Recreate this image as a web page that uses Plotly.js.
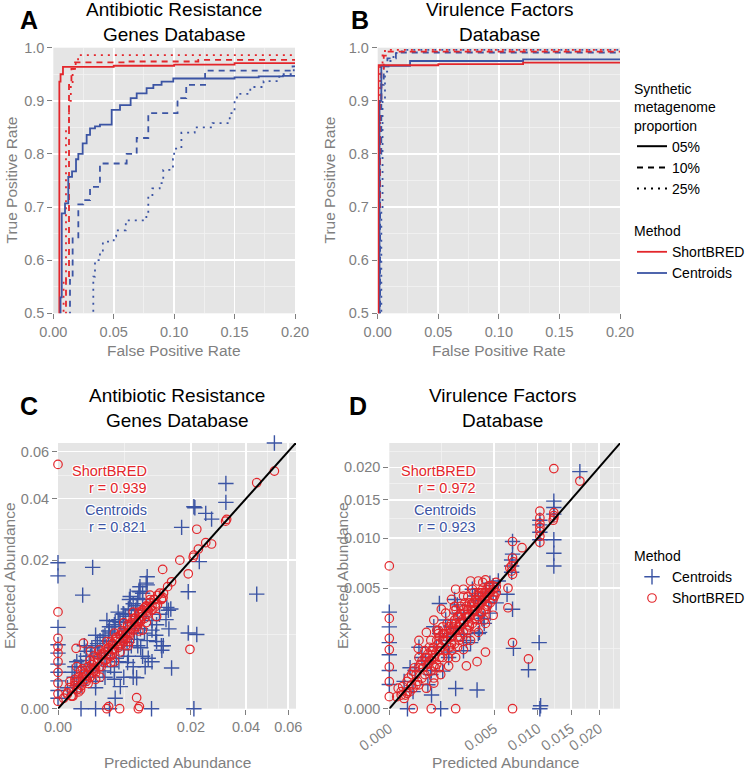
<!DOCTYPE html>
<html><head><meta charset="utf-8">
<script src="https://cdn.plot.ly/plotly-3.0.1.min.js"></script>
<style>html,body{margin:0;padding:0;background:#fff}#chart{width:750px;height:770px}</style>
</head><body><div id="chart"></div>
<script>
// ---------- ROC data (panel A: Antibiotic Resistance Genes) ----------
const fprA_SB05 = [0.005, 0.006, 0.008, 0.05, 0.10, 0.15, 0.21];
const tprA_SB05 = [0.45, 0.936, 0.95, 0.964, 0.966, 0.968, 0.971];
const fprA_SB10 = [0.0105, 0.013, 0.015, 0.018, 0.06, 0.12, 0.21];
const tprA_SB10 = [0.45, 0.563, 0.93, 0.96, 0.9725, 0.974, 0.977];
const fprA_SB25 = [0.0085, 0.0105, 0.013, 0.0145, 0.016, 0.0185, 0.0205, 0.21];
const tprA_SB25 = [0.45, 0.56, 0.85, 0.9, 0.93, 0.96, 0.975, 0.986];
const fprA_C05 = [0.006, 0.007, 0.0097, 0.0124, 0.0155, 0.0188, 0.0207, 0.0243, 0.0276, 0.0304, 0.0345, 0.0386, 0.0483, 0.0552, 0.064, 0.069, 0.0772, 0.0828, 0.0896, 0.0993, 0.15, 0.17, 0.19, 0.21];
const tprA_C05 = [0.45, 0.53, 0.688, 0.707, 0.757, 0.767, 0.79, 0.80, 0.82, 0.836, 0.848, 0.852, 0.855, 0.883, 0.892, 0.905, 0.914, 0.924, 0.93, 0.936, 0.942, 0.944, 0.946, 0.947];
const fprA_C10 = [0.0138, 0.016, 0.0207, 0.0248, 0.0304, 0.0386, 0.0607, 0.069, 0.0786, 0.1028, 0.110, 0.1256, 0.198, 0.21];
const tprA_C10 = [0.45, 0.563, 0.641, 0.705, 0.713, 0.738, 0.782, 0.80, 0.83, 0.877, 0.905, 0.93, 0.957, 0.965];
const fprA_C25 = [0.0331, 0.0345, 0.0386, 0.041, 0.050, 0.052, 0.06, 0.077, 0.0786, 0.082, 0.088, 0.091, 0.099, 0.100, 0.106, 0.117, 0.1318, 0.146, 0.150, 0.152, 0.163, 0.174, 0.187, 0.199, 0.21];
const tprA_C25 = [0.45, 0.569, 0.60, 0.615, 0.635, 0.645, 0.656, 0.675, 0.688, 0.72, 0.735, 0.745, 0.77, 0.79, 0.81, 0.84, 0.85, 0.858, 0.877, 0.90, 0.913, 0.926, 0.937, 0.95, 0.965];

// ---------- ROC data (panel B: Virulence Factors) ----------
const fprB_SB05 = [0.0005, 0.05, 0.12, 0.21];
const tprB_SB05 = [0.45, 0.967, 0.969, 0.972];
const fprB_SB10 = [0.001, 0.002, 0.003, 0.005, 0.008, 0.21];
const tprB_SB10 = [0.45, 0.7, 0.9, 0.96, 0.985, 0.9925];
const fprB_SB25 = [0.001, 0.002, 0.004, 0.006, 0.21];
const tprB_SB25 = [0.45, 0.8, 0.97, 0.99, 0.996];
const fprB_C05 = [0.0015, 0.003, 0.0267, 0.12, 0.21];
const tprB_C05 = [0.45, 0.9, 0.966, 0.975, 0.978];
const fprB_C10 = [0.002, 0.003, 0.005, 0.008, 0.015, 0.21];
const tprB_C10 = [0.45, 0.8, 0.93, 0.965, 0.98, 0.991];
const fprB_C25 = [0.003, 0.004, 0.006, 0.009, 0.013, 0.02, 0.21];
const tprB_C25 = [0.45, 0.7, 0.9, 0.955, 0.975, 0.99, 0.996];

// ---------- Abundance scatter (panel C: ARG database) ----------
const cCenPred = [0.053,0.0319,0.0319,0.0209,0.0212,0.0247,0.0267,0.0173,0.0226,0.00136,
0,0,0.00069,0.009,0.0088,0.0076,0.0192,0.0447,0.0138,0.0134,
0.0192,0.0218,0.011,0.0122,0.0146,0.0086,0.007,0.0044,0.0037,0.0209,
0.0099,0.0059,0.0048,0.0037,0.0076,0.000225,0.0004,0.000625,0.0009,0.0012,
0.0016,0.002,0.0025,0.003,0.0036,0.0042,0.0049,0.0056,0.0064,0.0072,
0.0081,0.009,0.0009,0.0025,0.0049,0.0081,0.0016,0.0025,0.0036,0.0042,
0.0049,0.0056,0.0064,0.0072,0.0081,0.009,0.01,0.011,0.0121,0.0132,
0.01,0.0144,0,0,0,0,0,0,0,0,
0.0016,0.003,0.0006,0.0001,0.0003,0.0006,0.0011,0.0019,0.0029,0.0033,
0.0052,0.0061,0.0068,0.0031,0.0054,0.0066,0.0077];
const cCenExp = [0.064,0.046,0.0386,0.037,0.0366,0.0346,0.0326,0.0298,0.0196,0.0181,
0.0193,0.016,0.0117,0.0158,0.0143,0.0124,0.0124,0.0119,0.0088,0.0093,
0.0052,0.005,0.0041,0.0031,0.0015,0.0016,0.00087,0.00044,0.0001,0,
0,0.0114,0.0082,0.0069,0.0135,0.0012,0.002,0.0016,0.003,0.0025,
0.0036,0.0042,0.0049,0.0061,0.0064,0.0072,0.0081,0.009,0.01,0.011,
0.0121,0.0139,0.0009,0.0023,0.0046,0.0077,0.0004,0.0009,0.0012,0.002,
0.0009,0.0025,0.0016,0.0036,0.0025,0.0042,0.0056,0.0064,0.0036,0.0072,
0.002,0.009,0.006,0.0037,0.0028,0.0018,0.0012,0.0007,0.0003,0.0001,
0,0,0,0.0004,0.0009,0.0005,0.0018,0.0028,0.0041,0.0052,
0.0058,0.0068,0.0088,0.0023,0.004,0.0052,0.0058];
const cCenPredBand = [0.000324,0.000576,0.0009,0.001296,0.001764,0.002304,0.002916,0.0036,0.004356,0.005184,
0.006084,0.007056,0.0081,0.000784,0.0016,0.002704,0.004096,0.005776,0.007396,
0.0016,0.002304,0.003136,0.003844,0.0049,0.006084,0.007056,0.008464,0.01,0.011664,
0.0036,0.005476,0.007744,0.010816,0.012544,0.013924,0.0064,0.009216,
0.0004,0.001156,0.002116,0.003364,0.004624,0.006724];
const cCenExpBand = [0.0016,0.002116,0.0025,0.003364,0.003844,0.004624,0.005476,0.006084,0.006724,0.007744,
0.008836,0.009604,0.010816,0.0036,0.0049,0.007056,0.008464,0.010816,0.012544,
0.000676,0.001296,0.0016,0.002304,0.003136,0.0036,0.004356,0.005184,0.007056,0.0081,
0.000784,0.001936,0.003364,0.0049,0.0036,0.005776,0.0009,0.002304,
0.000484,0.001296,0.002304,0.003364,0.0049,0.006724];
const cSbPred = [0,0.053,0.0447,0.0322,0.0318,0.0218,0.0267,0.0247,0.0223,0.0209,
0.0207,0.0168,0.0192,0.0124,0.0146,0.0136,0.0126,0.0122,0.0096,0.0107,
0.011,0.0197,0.00037,0.00073,0,0,0,0,0,0,
0,0,0,0.007,0.0027,0.0029,0.0043,0.0073,0.0075,0.00016,
0.0001,0.000225,0.000324,0.0004,0.000484,0.000625,0.000729,0.0009,0.001024,0.001156,
0.0013,0.00144,0.0016,0.00176,0.00194,0.0021,0.0023,0.0025,0.0027,0.0029,
0.0031,0.0034,0.0036,0.0038,0.0041,0.0044,0.0046,0.0049,0.0052,0.0055,
0.0058,0.0061,0.0064,0.0067,0.0071,0.0074,0.0077,0.0081,0.0085,0.0088,
0.0092,0.0096,0.01,0.0106,0.0112,0.0117,0.0125,0.002,0.0036,0.0012,
0.0056,0.0081,0.0004,0.0015,0.0033,0.0052,0.007,0.009,0.0008];
const cSbExp = [0.0541,0.0512,0.0463,0.0325,0.0319,0.0292,0.0246,0.025,0.0231,0.0214,
0.0208,0.02,0.0165,0.0176,0.0146,0.0135,0.0121,0.011,0.0117,0.0094,
0.0077,0.0032,0.0033,0.0039,0.0085,0.0045,0.0035,0.0028,0.002,0.0012,
0.0006,0.0002,0.00005,0.00011,0,0.000004,0,0,0.000004,0.00066,
0.000225,0.000144,0.000625,0.000324,0.0009,0.000484,0.001089,0.000676,0.0016,0.0009,
0.00137,0.002,0.00116,0.0023,0.0016,0.0027,0.00194,0.0031,0.0022,0.0034,
0.0025,0.0038,0.0029,0.0044,0.0034,0.0049,0.0038,0.0053,0.0044,0.0061,
0.0049,0.0067,0.0056,0.0074,0.0061,0.0081,0.0069,0.0088,0.0074,0.0094,
0.0081,0.0102,0.0088,0.0108,0.0098,0.0121,0.0112,0.0009,0.002,0.003,
0.0036,0.0056,0.0016,0.0015,0.0032,0.0051,0.0069,0.0091,0.0008];
const cSbPredBand = [0.000144,0.000256,0.0004,0.000576,0.000784,0.0009,0.001156,0.001296,0.0016,0.001764,
0.002116,0.002304,0.0025,0.002916,0.003136,0.003364,0.0036,0.003844,0.004096,0.004356,
0.004624,0.0049,0.005184,0.005476,0.005776,0.006084,0.0064,0.006724,0.007056,0.007396,
0.007744,0.0081,0.008464,0.008836,0.009216,0.009604,0.01,0.010816,0.011236,0.0121,
0.001936,0.002704,0.0036,0.0049,0.0064,0.003136,0.004356,0.005776,0.007396,0.008836,
0.000676,0.001024,0.001444,0.000324,0.000484,
0.000036,0.0001,0.000196,0.000324,0.000484,0.000676,0.0009,0.001156,0.001444,0.001764,
0.002116,0.0025,0.002916,0.003364,0.003844,0.004356,0.0049,0.005476,0.006084,0.006724,
0.007396,0.0081,0.008836,0.009604,0.010404,0.000576,0.001156,0.0016,0.003136,0.005184];
const cSbExpBand = [0.0004,0.000144,0.000676,0.000324,0.001156,0.000784,0.0009,0.001764,0.001444,0.002304,
0.0016,0.002704,0.002116,0.003364,0.0025,0.003844,0.003136,0.004624,0.0036,0.004096,
0.005476,0.004096,0.0049,0.0064,0.005184,0.005776,0.007396,0.006084,0.006724,0.008464,
0.007056,0.007744,0.009216,0.0081,0.008836,0.010816,0.009604,0.01,0.011664,0.010816,
0.003136,0.004096,0.005184,0.006724,0.008464,0.001936,0.002916,0.004096,0.005476,0.006724,
0.001444,0.000576,0.0025,0.000784,0.000256,
0.0001,0.000196,0.000144,0.000484,0.0004,0.0009,0.001024,0.001444,0.001296,0.001936,
0.0025,0.002916,0.002704,0.003136,0.004096,0.0049,0.004624,0.005184,0.0064,0.007396,
0.007056,0.008464,0.009604,0.009216,0.010816,0.001296,0.002116,0.000784,0.004096,0.0036];

// ---------- Abundance scatter (panel D: VF database) ----------
const dCenPred = [0.0122,0.0165,0.0123,0.0123,0.0123,0.0123,0.0123,0.0123,0.0103,0.0103,
0.0103,0.0103,0.0068,0.0068,0.0068,0.0069,0.0069,0.0102,0.0088,0.007,
0.0069,0.0063,0.0049,0.004,0.0037,0.003,0.00114,0.0021,0.002,0.0035,
0.00081,0.0015,0.0017,0,0,0,0,0,0,0.0012,
0.0103,0.00015,0.0104,0.0003,0.0006,0.001,0.0015,0.002,0.0025,0.003,
0.0036,0.0042,0.0049,0.0008,0.0016,0.0025,0.0036,0.0045,0.0054,0.0046];
const dCenExp = [0.0243,0.0193,0.0148,0.0139,0.013,0.0098,0.0083,0.007,0.0098,0.0107,
0.0116,0.0122,0.0064,0.007,0.0076,0.0082,0.0096,0.0015,0.00052,0.00125,
0.0034,0.0045,0.0047,0.0028,0.002,0.0015,0.0038,0.0037,0.00014,0.00012,
0.000064,0.0016,0.0023,0.0032,0.0023,0.0015,0.001,0.0005,0.0002,0,
0,0,0.000003,0.0005,0.0008,0.0013,0.0018,0.0022,0.0028,0.0033,
0.004,0.0046,0.0052,0.0005,0.0011,0.0019,0.003,0.0039,0.0056,0.0054];
const dCenPredBand = [0.0001,0.000256,0.000484,0.000784,0.001156,0.0016,0.002116,0.002704,0.003364,0.004096,
0.0004,0.0009,0.001936,0.001296,0.0025,0.0036,0.004624,0.000196,0.000676,0.001444,0.003136,0.005184];
const dCenExpBand = [0.000256,0.0001,0.0009,0.0004,0.001936,0.0009,0.003136,0.0016,0.004356,0.0025,
0.001296,0.002304,0.004096,0.000484,0.001156,0.001936,0.003136,0.000576,0.000196,0.002704,0.0049,0.003844];
const dSbPred = [0,0.0123,0.0165,0.0103,0.0103,0.0103,0.0103,0.0103,0.0103,0.0103,
0.0123,0.0123,0.0123,0.0122,0.0069,0.008,0.0068,0.0068,0.007,0.0066,
0.0069,0.0069,0.0042,0.0064,0.0064,0.0069,0.0088,0.0042,0.0035,0.0027,
0.00038,0,0,0,0,0,0,0.00026,0.0008,0.002,
0.0069,0.000064,0.000144,0.000225,0.000324,0.0004,0.000484,0.000576,0.000676,0.000784,
0.0009,0.001024,0.001156,0.0013,0.00144,0.0016,0.00176,0.00194,0.0021,0.0023,
0.0025,0.0027,0.0029,0.0031,0.0034,0.0036,0.0038,0.0041,0.0044,0.0046,
0.0049,0.0004,0.000625,0.0009,0.00123,0.00176,0.0025,0.003,0.002,0.0036,
0.0009,0.0016,0.002,0.0025,0.003,0.0036,0.0042,0.0049,0.0012,0.000625,
0.0008,0.0012,0.0017,0.0022,0.0028,0.0033,0.0039,0.0045,0.0052,0.0011,
0.0019,0.0028];
const dSbExp = [0.007,0.0198,0.0178,0.0134,0.0125,0.0118,0.0113,0.0108,0.0102,0.0095,
0.0132,0.0128,0.0125,0.0122,0.0096,0.0089,0.0065,0.007,0.0074,0.0068,
0.0078,0.0062,0.0057,0.005,0.0035,0.0015,0.00085,0.0011,0.00076,0.00063,
0.00125,0.0028,0.0017,0.0012,0.0006,0.00025,0.00005,0,0,0,
0,0.0001,0.000081,0.0004,0.000196,0.000576,0.000324,0.0009,0.000484,0.00116,
0.000625,0.0016,0.0009,0.00194,0.00116,0.0023,0.00144,0.0027,0.00176,0.0031,
0.002,0.0036,0.0024,0.0038,0.0028,0.0044,0.0032,0.0046,0.0037,0.0052,
0.0044,0.0016,0.002,0.0027,0.0034,0.0041,0.0049,0.0056,0.0049,0.0056,
0.000225,0.000625,0.0009,0.0012,0.0016,0.002,0.0025,0.003,0.0004,0.000144,
0.0008,0.0013,0.0018,0.0023,0.0029,0.0033,0.004,0.0046,0.0051,0.0021,
0.0033,0.0043];
const dSbPredBand = [0.000036,0.0001,0.000144,0.000196,0.000256,0.000324,0.0004,0.000484,0.000576,0.000676,
0.000676,0.000784,0.0009,0.0009,0.001024,0.001156,0.001156,0.001296,0.001296,0.001444,
0.0016,0.0016,0.001764,0.001764,0.001936,0.001936,0.002116,0.002116,0.002304,0.002304,
0.0025,0.0025,0.002704,0.002704,0.002916,0.002916,0.003136,0.003136,0.003364,0.003364,
0.0036,0.0036,0.003844,0.003844,0.004096,0.004096,0.004356,0.004356,0.004624,0.004624,
0.0049,0.0049,0.005184,0.005184,0.001444,0.001936,0.0025,0.003136,0.001024,0.000784,
0.000576,0.0004,0.0016,0.002116,0.002704,0.003364,0.004096,0.001156,0.0009,0.0036,
0.002304,0.001296,0.001764,0.002916,0.003844,0.004356,0.0049,0.000256,0.000144,0.000064,
0.000025,0.000081,0.000121,0.000169,0.000225,0.000289,0.000361,0.000441,0.000529,0.000625,
0.000729,0.000841,0.000961,0.001089,0.001225,0.001369,0.001521,0.001681,0.001849,0.002025,
0.002209,0.002401,0.002601,0.002809,0.003025,0.003249,0.003481,0.003721,0.003969,0.004225,
0.004489,0.000729,0.001089,0.001521,0.002025,0.002601,0.003249,0.003969,0.000961,0.001681,
0.002209,0.002809,0.003481,0.004225,0.005041];
const dSbExpBand = [0.000144,0.000036,0.000256,0.0001,0.000484,0.0004,0.000196,0.000784,0.0004,0.001024,
0.000676,0.000484,0.001296,0.0009,0.000676,0.001764,0.001156,0.0009,0.002304,0.0016,
0.001296,0.001936,0.0025,0.001764,0.001444,0.002116,0.002916,0.002116,0.001764,0.0025,
0.003364,0.0025,0.002116,0.002916,0.003844,0.002916,0.0025,0.003364,0.004096,0.003364,
0.002916,0.003844,0.004624,0.003844,0.003364,0.004096,0.0049,0.004356,0.003844,0.004624,
0.005184,0.0049,0.005476,0.004624,0.003136,0.0036,0.004356,0.0049,0.002116,0.0016,
0.001156,0.0009,0.0009,0.001296,0.0016,0.002304,0.002704,0.000576,0.000324,0.004624,
0.0036,0.0016,0.001156,0.002304,0.003136,0.0036,0.004096,0.000144,0.0001,0.000064,
0.000049,0.000169,0.000064,0.000324,0.000196,0.000576,0.000256,0.000676,0.000576,0.0009,
0.000784,0.001156,0.001024,0.001444,0.001296,0.001936,0.001764,0.002116,0.002304,0.0025,
0.002916,0.002704,0.003136,0.003364,0.0036,0.003844,0.004096,0.004356,0.0049,0.004624,
0.005184,0.001296,0.001936,0.0025,0.003364,0.003844,0.004624,0.005476,0.000576,0.001296,
0.0016,0.002116,0.002704,0.003364,0.004356];

// identity reference line and tick labels
const identityLine = [0, 0.07];
const rocXTicks = [0, 0.05, 0.10, 0.15, 0.20];
const rocYTicks = [0.5, 0.6, 0.7, 0.8, 0.9, 1.0];
const cTicks = [0, 0.02, 0.04, 0.06];
const cTickLabels = ['0.00', '0.02', '0.04', '0.06'];
const dTicks = [0, 0.005, 0.010, 0.015, 0.020];
const dTickLabels = ['0.000', '0.005', '0.010', '0.015', '0.020'];
const corrLabels = {C: ['0.939', '0.821'], D: ['0.972', '0.923']};
const proportionNames = ['05%', '10%', '25%'];

// ---------- styling ----------
const FONT = 'Liberation Sans, Arial, Helvetica, sans-serif';
const GREY = '#7F7F7F';
const RED = '#E3262B';
const BLUE = '#3B54A4';
const W = 750, H = 770;
const P = v => v / W, Q = v => 1 - v / H;
const sq = a => a.map(v => Math.sqrt(v));
const DASH = {'05%': 'solid', '10%': '6px,5px', '25%': '2px,5px'};

function roc(xa, ya, fpr, tpr, color, dash, extra) {
  return Object.assign({type: 'scatter', mode: 'lines', x: fpr, y: tpr, xaxis: xa, yaxis: ya,
    line: {color: color, width: 1.8, dash: dash, shape: 'vh'}, showlegend: false, hoverinfo: 'skip'}, extra || {});
}
const traces = [
  roc('x', 'y', fprA_C25, tprA_C25, BLUE, DASH['25%']),
  roc('x', 'y', fprA_C10, tprA_C10, BLUE, DASH['10%']),
  roc('x', 'y', fprA_SB25, tprA_SB25, RED, DASH['25%']),
  roc('x', 'y', fprA_SB10, tprA_SB10, RED, DASH['10%']),
  roc('x', 'y', fprA_SB05, tprA_SB05, RED, 'solid', {name: 'ShortBRED', showlegend: true, legend: 'legend2'}),
  roc('x', 'y', fprA_C05, tprA_C05, BLUE, 'solid', {name: 'Centroids', showlegend: true, legend: 'legend2'}),
  roc('x2', 'y2', fprB_C25, tprB_C25, BLUE, DASH['25%']),
  roc('x2', 'y2', fprB_C10, tprB_C10, BLUE, DASH['10%']),
  roc('x2', 'y2', fprB_SB25, tprB_SB25, RED, DASH['25%']),
  roc('x2', 'y2', fprB_SB10, tprB_SB10, RED, DASH['10%']),
  roc('x2', 'y2', fprB_C05, tprB_C05, BLUE, 'solid'),
  roc('x2', 'y2', fprB_SB05, tprB_SB05, RED, 'solid'),
];
// proportion legend entries (line type only)
proportionNames.forEach(n => traces.push({type: 'scatter', mode: 'lines', x: [null], y: [null], xaxis: 'x', yaxis: 'y',
  name: n, legend: 'legend', line: {color: '#000', width: 2, dash: DASH[n]}, hoverinfo: 'skip'}));

const cenMarker = {symbol: 'cross-thin-open', size: 11, color: BLUE, line: {color: BLUE, width: 1.4}};
const sbMarker = {symbol: 'circle-open', size: 8.5, color: RED, line: {color: RED, width: 1.2}};
traces.push(
  {type: 'scatter', mode: 'markers', x: sq(cCenPred.concat(cCenPredBand)), y: sq(cCenExp.concat(cCenExpBand)),
   xaxis: 'x3', yaxis: 'y3', marker: cenMarker,
   name: 'Centroids', legend: 'legend3', showlegend: true, cliponaxis: false, hoverinfo: 'skip'},
  {type: 'scatter', mode: 'markers', x: sq(cSbPred.concat(cSbPredBand)), y: sq(cSbExp.concat(cSbExpBand)),
   xaxis: 'x3', yaxis: 'y3', marker: sbMarker,
   name: 'ShortBRED', legend: 'legend3', showlegend: true, cliponaxis: false, hoverinfo: 'skip'},
  {type: 'scatter', mode: 'lines', x: sq(identityLine), y: sq(identityLine), xaxis: 'x3', yaxis: 'y3',
   line: {color: '#000', width: 2}, showlegend: false, hoverinfo: 'skip'},
  {type: 'scatter', mode: 'markers', x: sq(dCenPred.concat(dCenPredBand)), y: sq(dCenExp.concat(dCenExpBand)),
   xaxis: 'x4', yaxis: 'y4', marker: cenMarker, showlegend: false, cliponaxis: false, hoverinfo: 'skip'},
  {type: 'scatter', mode: 'markers', x: sq(dSbPred.concat(dSbPredBand)), y: sq(dSbExp.concat(dSbExpBand)),
   xaxis: 'x4', yaxis: 'y4', marker: sbMarker, showlegend: false, cliponaxis: false, hoverinfo: 'skip'},
  {type: 'scatter', mode: 'lines', x: sq(identityLine), y: sq(identityLine), xaxis: 'x4', yaxis: 'y4',
   line: {color: '#000', width: 2}, showlegend: false, hoverinfo: 'skip'}
);

const baseAxis = {showline: false, zeroline: false, ticks: 'outside', ticklen: 5, tickwidth: 1, tickcolor: GREY,
  tickfont: {family: FONT, size: 14.5, color: GREY}, showgrid: true, gridcolor: '#FFFFFF', gridwidth: 1.6,
  fixedrange: true, automargin: false};
const ax = o => Object.assign({}, baseAxis, o);
const minorGrid = {showgrid: true, gridcolor: '#F3F3F3', gridwidth: 0.8};
function sqrtAxis(ticks, labels, top, extra) {
  const s = ticks.map(Math.sqrt);
  const mids = [];
  for (let i = 0; i < s.length - 1; i++) mids.push((s[i] + s[i + 1]) / 2);
  mids.push(s[s.length - 1] + (s[s.length - 1] - s[s.length - 2]) / 2);
  return ax(Object.assign({range: [0, top], tickmode: 'array', tickvals: s, ticktext: labels,
    minor: Object.assign({tickmode: 'array', tickvals: mids.filter(v => v < top)}, minorGrid)}, extra || {}));
}
const rocX = dom => ax({domain: dom, range: [0, 0.2], tickmode: 'array', tickvals: rocXTicks, tickformat: '.2f',
  minor: Object.assign({dtick: 0.025, tick0: 0}, minorGrid)});
const rocY = (anchor) => ax({domain: [Q(313.3), Q(47.7)], range: [0.5, 1.0], anchor: anchor, tickmode: 'array',
  tickvals: rocYTicks, tickformat: '.1f', minor: Object.assign({dtick: 0.05, tick0: 0.5}, minorGrid)});

const txt = (text, x, y, size, color, extra) => Object.assign({text: text, x: x, y: y, xref: 'paper', yref: 'paper',
  showarrow: false, xanchor: 'center', yanchor: 'middle', font: {family: FONT, size: size, color: color}}, extra || {});
const halo = '1px 1px 0 #fff, -1px -1px 0 #fff, 1px -1px 0 #fff, -1px 1px 0 #fff, 0 1px 0 #fff, 0 -1px 0 #fff, 1px 0 0 #fff, -1px 0 0 #fff';
const corr = (text, x, y, color) => ({text: text, x: x, y: y, xref: 'paper', yref: 'paper', showarrow: false,
  xanchor: 'right', yanchor: 'middle', font: {family: FONT, size: 14.5, color: color, shadow: halo}});

const annotations = [
  txt('<b>A</b>', P(29), Q(20), 25, '#000'),
  txt('<b>B</b>', P(360), Q(20), 25, '#000'),
  txt('<b>C</b>', P(29), Q(406), 25, '#000'),
  txt('<b>D</b>', P(358), Q(406), 25, '#000'),
  txt('Antibiotic Resistance<br>Genes Database', P(174), Q(22), 19, '#000'),
  txt('Virulence Factors<br>Database', P(500), Q(22), 19, '#000'),
  txt('Antibiotic Resistance<br>Genes Database', P(177), Q(408), 19, '#000'),
  txt('Virulence Factors<br>Database', P(503), Q(408), 19, '#000'),
  txt('False Positive Rate', P(174), Q(350), 15.5, GREY),
  txt('False Positive Rate', P(499), Q(350), 15.5, GREY),
  txt('True Positive Rate', P(11), Q(180.5), 15.5, GREY, {textangle: -90}),
  txt('True Positive Rate', P(329), Q(180.5), 15.5, GREY, {textangle: -90}),
  txt('Predicted Abundance', P(177), Q(762), 15.5, GREY),
  txt('Predicted Abundance', P(505), Q(762), 15.5, GREY),
  txt('Expected Abundance', P(9), Q(576), 15.5, GREY, {textangle: -90}),
  txt('Expected Abundance', P(342), Q(576), 15.5, GREY, {textangle: -90}),
  corr('ShortBRED', P(149), Q(471), RED),
  corr('r = ' + corrLabels.C[0], P(149), Q(488), RED),
  corr('Centroids', P(149), Q(510), BLUE),
  corr('r = ' + corrLabels.C[1], P(149), Q(527), BLUE),
  corr('ShortBRED', P(478), Q(471), RED),
  corr('r = ' + corrLabels.D[0], P(478), Q(488), RED),
  corr('Centroids', P(478), Q(510), BLUE),
  corr('r = ' + corrLabels.D[1], P(478), Q(527), BLUE),
];

const legendBase = {xanchor: 'left', yanchor: 'top', bgcolor: 'rgba(0,0,0,0)', borderwidth: 0,
  font: {family: FONT, size: 14, color: '#000'}, itemclick: false, itemdoubleclick: false, tracegroupgap: 0};
const lg = (y, title) => Object.assign({}, legendBase, {x: P(632), y: Q(y), title: {text: title, font: {family: FONT, size: 14, color: '#000'}}});

const layout = {
  width: W, height: H, margin: {l: 0, r: 0, t: 0, b: 0}, paper_bgcolor: '#FFFFFF', plot_bgcolor: '#E5E5E5',
  font: {family: FONT},
  xaxis: Object.assign(rocX([P(53.3), P(295)]), {anchor: 'y'}),
  yaxis: rocY('x'),
  xaxis2: Object.assign(rocX([P(377.7), P(620)]), {anchor: 'y2'}),
  yaxis2: rocY('x2'),
  xaxis3: sqrtAxis(cTicks, cTickLabels, 0.2532, {domain: [P(58), P(296)], anchor: 'y3'}),
  yaxis3: sqrtAxis(cTicks, cTickLabels, 0.2530, {domain: [Q(708.7), Q(443)], anchor: 'x3'}),
  xaxis4: sqrtAxis(dTicks, dTickLabels, 0.1555, {domain: [P(389.3), P(620)], anchor: 'y4', tickangle: -35}),
  yaxis4: sqrtAxis(dTicks, dTickLabels, 0.1557, {domain: [Q(708.7), Q(443)], anchor: 'x4'}),
  legend: lg(76, 'Synthetic<br>metagenome<br>proportion'),
  legend2: lg(218, 'Method'),
  legend3: lg(543, 'Method'),
  annotations: annotations,
  showlegend: true,
};

Plotly.newPlot('chart', traces, layout, {staticPlot: true, displayModeBar: false});
</script>
</body></html>
